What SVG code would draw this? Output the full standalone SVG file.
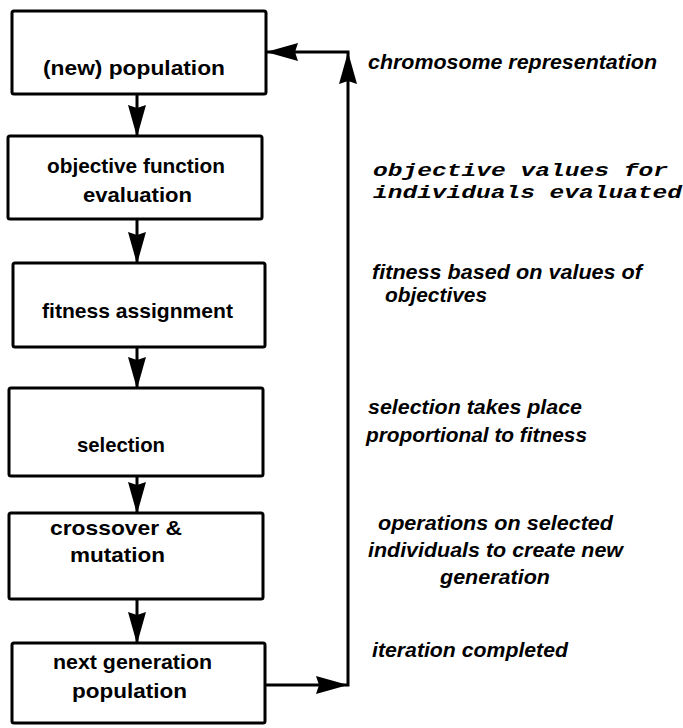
<svg xmlns="http://www.w3.org/2000/svg" width="683" height="728" viewBox="0 0 683 728">
<style>
.box{fill:#fff;stroke:#000;stroke-width:3}
.lbl{font-family:"Liberation Sans",Arial,sans-serif;font-weight:bold;font-size:21px;fill:#000}
.note{font-family:"Liberation Sans",Arial,sans-serif;font-weight:bold;font-style:italic;font-size:21px;fill:#000}
.mono{font-family:"Liberation Mono","Courier New",monospace;font-weight:bold;font-style:italic;font-size:19px;fill:#000}
.con{fill:none;stroke:#000;stroke-width:3}
</style>
<defs>
<marker id="ah" viewBox="0 0 32 20" refX="31" refY="10" markerWidth="32" markerHeight="20" markerUnits="userSpaceOnUse" orient="auto">
<path d="M0,1 L32,10 L0,19 L3,10 z" fill="#000"/>
</marker>
</defs>
<rect width="683" height="728" fill="#fff"/>
<g id="connectors">
<line class="con" x1="137" y1="95" x2="137" y2="136" marker-end="url(#ah)"/>
<line class="con" x1="137" y1="220" x2="137" y2="263" marker-end="url(#ah)"/>
<line class="con" x1="137" y1="348" x2="137" y2="388" marker-end="url(#ah)"/>
<line class="con" x1="137" y1="477" x2="137" y2="513" marker-end="url(#ah)"/>
<line class="con" x1="137" y1="600" x2="137" y2="643" marker-end="url(#ah)"/>
<path class="con" d="M266,685 H347" marker-end="url(#ah)"/>
<path class="con" d="M348,686.5 V53" marker-end="url(#ah)"/>
<path class="con" d="M349.5,52 H267" marker-end="url(#ah)"/>
</g>
<g id="n1">
<rect class="box" x="12" y="11" width="254" height="83" rx="2"/>
<text class="lbl" x="43" y="75" textLength="182" lengthAdjust="spacingAndGlyphs">(new) population</text>
</g>
<g id="n2">
<rect class="box" x="8" y="136" width="254" height="83" rx="2"/>
<text class="lbl" x="47" y="173" textLength="178" lengthAdjust="spacingAndGlyphs">objective function</text>
<text class="lbl" x="83" y="202" textLength="109" lengthAdjust="spacingAndGlyphs">evaluation</text>
</g>
<g id="n3">
<rect class="box" x="13" y="263" width="252" height="84" rx="2"/>
<text class="lbl" x="42" y="318" textLength="191" lengthAdjust="spacingAndGlyphs">fitness assignment</text>
</g>
<g id="n4">
<rect class="box" x="9" y="388" width="254" height="88" rx="2"/>
<text class="lbl" x="77" y="452" textLength="88" lengthAdjust="spacingAndGlyphs">selection</text>
</g>
<g id="n5">
<rect class="box" x="9" y="513" width="254" height="86" rx="2"/>
<text class="lbl" x="50" y="535" textLength="132" lengthAdjust="spacingAndGlyphs">crossover &amp;</text>
<text class="lbl" x="70" y="562" textLength="95" lengthAdjust="spacingAndGlyphs">mutation</text>
</g>
<g id="n6">
<rect class="box" x="12" y="643" width="253" height="80" rx="2"/>
<text class="lbl" x="53" y="669" textLength="159" lengthAdjust="spacingAndGlyphs">next generation</text>
<text class="lbl" x="72" y="698" textLength="115" lengthAdjust="spacingAndGlyphs">population</text>
</g>
<g id="notes">
<text class="note" x="368" y="69" textLength="289" lengthAdjust="spacingAndGlyphs">chromosome representation</text>
<text class="mono" x="373" y="176" textLength="295" lengthAdjust="spacingAndGlyphs">objective values for</text>
<text class="mono" x="373" y="198" textLength="309" lengthAdjust="spacingAndGlyphs">individuals evaluated</text>
<text class="note" x="372" y="279" textLength="270" lengthAdjust="spacingAndGlyphs">fitness based on values of</text>
<text class="note" x="385" y="302" textLength="102" lengthAdjust="spacingAndGlyphs">objectives</text>
<text class="note" x="368" y="414" textLength="214" lengthAdjust="spacingAndGlyphs">selection takes place</text>
<text class="note" x="366" y="442" textLength="221" lengthAdjust="spacingAndGlyphs">proportional to fitness</text>
<text class="note" x="378" y="530" textLength="235" lengthAdjust="spacingAndGlyphs">operations on selected</text>
<text class="note" x="368" y="557" textLength="255" lengthAdjust="spacingAndGlyphs">individuals to create new</text>
<text class="note" x="440" y="584" textLength="110" lengthAdjust="spacingAndGlyphs">generation</text>
<text class="note" x="372" y="657" textLength="196" lengthAdjust="spacingAndGlyphs">iteration completed</text>
</g>
</svg>
